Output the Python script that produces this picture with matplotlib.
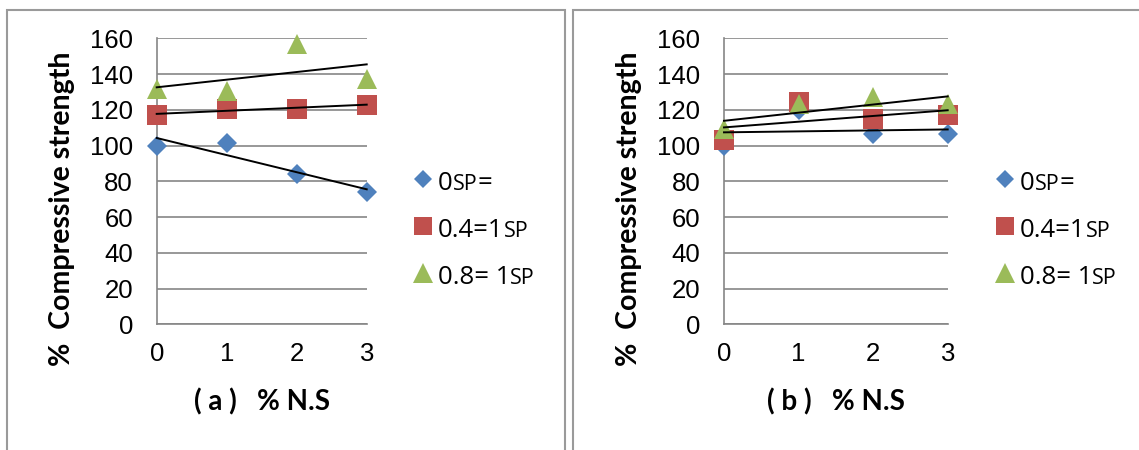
import numpy as np
import matplotlib
matplotlib.use("Agg")
import matplotlib.pyplot as plt
from matplotlib.lines import Line2D
from matplotlib.patches import Rectangle
from matplotlib.offsetbox import HPacker, TextArea, DrawingArea, AnchoredOffsetbox

# ---- data ----
ns = [0, 1, 2, 3]
a_sp0 = [100.0, 101.4, 84.3, 73.8]
a_sp04 = [117.3, 120.3, 120.7, 122.9]
a_sp08 = [131.6, 130.4, 157.0, 137.0]
b_sp0 = [100.0, 120.0, 106.5, 106.3]
b_sp04 = [103.3, 124.6, 114.6, 117.3]
b_sp08 = [109.2, 123.2, 127.3, 123.0]
yticks = [0, 20, 40, 60, 80, 100, 120, 140, 160]
xticks = [0, 1, 2, 3]
ylabel = "%  Compressive strength"
xlabels = ["( a )   % N.S", "( b )   % N.S"]
legend_parts = [[("0", False), ("SP", True), ("=", False)],
                [("0.4=1", False), ("SP", True)],
                [("0.8= 1", False), ("SP", True)]]

colors = ["#4F81BD", "#C0504D", "#9BBB59"]
markers = [("D", 10.0), ("s", 14.2), ("^", 14.5)]
grid_c = "#868686"

W, H = 1139, 450
fig = plt.figure(figsize=(W / 100, H / 100), dpi=100)

# chart-area frames
fig.add_artist(Rectangle((7.3 / W, -0.05), (565 - 7.3) / W, 1.05 - 10 / H,
                         transform=fig.transFigure, fill=False, ec="#9A9A9A", lw=1.5))
fig.add_artist(Rectangle((573 / W, -0.05), 0.5, 1.05 - 10 / H,
                         transform=fig.transFigure, fill=False, ec="#9A9A9A", lw=1.5))

tick_font = "Liberation Sans"
label_font = "Lato"
leg_font = "Open Sans"

Y_TOP, Y_BOT = 38.3, 324.3
panels = [
    (156.7, 366.7, [a_sp0, a_sp04, a_sp08], xlabels[0], 62, 423),
    (724.0, 947.7, [b_sp0, b_sp04, b_sp08], xlabels[1], 629, 1005),
]
leg_rows_y = [183, 230, 277]

for (x0, x1, series, xl, ylab_x, leg_x) in panels:
    ax = fig.add_axes([x0 / W, 1 - Y_BOT / H, (x1 - x0) / W, (Y_BOT - Y_TOP) / H])
    ax.set_xlim(0, 3)
    ax.set_ylim(0, 160)
    ax.set_yticks(yticks)
    ax.set_xticks(xticks)
    ax.yaxis.grid(True, color=grid_c, lw=1.2)
    ax.set_axisbelow(True)
    for s in ["top", "right"]:
        ax.spines[s].set_visible(False)
    for s in ["left", "bottom"]:
        ax.spines[s].set_color(grid_c)
        ax.spines[s].set_linewidth(1.2)
    ax.tick_params(axis="y", length=0, pad=17, labelsize=18.5, labelcolor="black")
    ax.tick_params(axis="x", length=0, pad=12.5, labelsize=18.5, labelcolor="black")
    for t in ax.get_xticklabels() + ax.get_yticklabels():
        t.set_fontfamily(tick_font)
    for vals, c, (m, ms) in zip(series, colors, markers):
        ax.plot(ns, vals, linestyle="none", marker=m, ms=ms, color=c,
                mec=c, mew=0, zorder=3, clip_on=False)
    for vals in series:
        k, b = np.polyfit(ns, vals, 1)
        xs = np.array([0, 3])
        ax.plot(xs, k * xs + b, color="black", lw=1.4, zorder=4, clip_on=False)

    fig.text(ylab_x / W, 1 - 209 / H, ylabel, rotation=90, ha="center", va="center",
             fontsize=20.5, fontweight="bold", family=label_font)
    fig.text((x0 + x1) / 2 / W, 1 - 402 / H, xl, ha="center", va="center",
             fontsize=20, fontweight="bold", family=label_font)

    # legend rows
    for (m, ms), c, parts, ry in zip(markers, colors, legend_parts, leg_rows_y):
        da = DrawingArea(17.8, 16, 0, 1.5)
        da.add_artist(Line2D([7], [8], marker=m, ms=ms * 0.95, color=c, mec=c,
                             mew=0, linestyle="none"))
        pieces = [da]
        for txt, small in parts:
            pieces.append(TextArea(txt, textprops=dict(
                fontsize=15.5 if small else 18.5, family=leg_font, color="black")))
        row = HPacker(children=pieces, align="baseline", pad=0, sep=0)
        ab = AnchoredOffsetbox(loc="center left", child=row, frameon=False,
                               bbox_to_anchor=((leg_x - 7 * 1.389) / W, 1 - ry / H),
                               bbox_transform=fig.transFigure, borderpad=0, pad=0)
        fig.add_artist(ab)

fig.savefig("out.png", dpi=100)
